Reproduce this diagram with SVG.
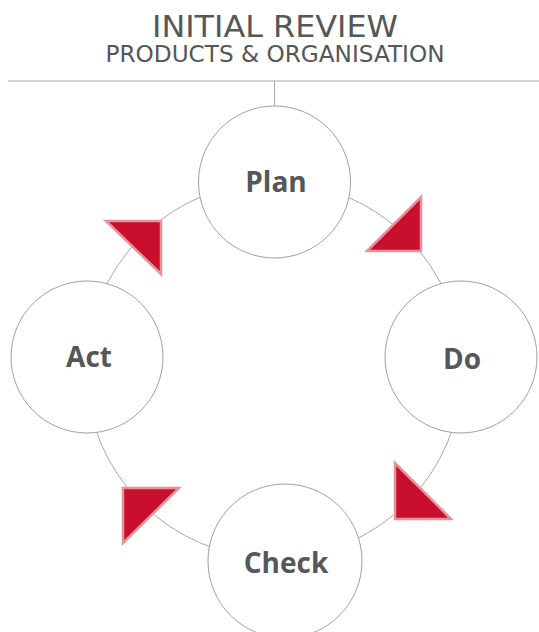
<svg xmlns="http://www.w3.org/2000/svg" width="539" height="632" viewBox="0 0 539 632">
  <style>
    .title { font-family: "DejaVu Sans", "Liberation Sans", sans-serif; fill: #555759; text-anchor: middle; }
    .node circle { fill: #ffffff; stroke: #a0a0a0; stroke-width: 1; }
    .node text { font-family: "Open Sans", "Liberation Sans", sans-serif; font-weight: bold; font-size: 28px; fill: #55575a; text-anchor: middle; }
    .line { fill: none; stroke: #a8a8a8; stroke-width: 1; }
    .arrow { fill: #c8102e; stroke: #e8919b; stroke-width: 2.5; stroke-linejoin: miter; }
  </style>

  <!-- heading -->
  <text class="title" x="275" y="37" font-size="31" textLength="246" lengthAdjust="spacingAndGlyphs">INITIAL REVIEW</text>
  <text class="title" x="275" y="62" font-size="23" textLength="339" lengthAdjust="spacingAndGlyphs">PRODUCTS &amp; ORGANISATION</text>

  <!-- connectors: header rule, stem, and the cycle ring -->
  <g id="connectors">
    <line class="line" x1="8" y1="81" x2="539" y2="81"/>
    <line class="line" x1="274.5" y1="81" x2="274.5" y2="106"/>
    <circle class="line" cx="274" cy="370" r="188"/>
  </g>

  <!-- cycle nodes -->
  <g id="plan" class="node">
    <circle cx="274.5" cy="182" r="76"/>
    <text x="276" y="192">Plan</text>
  </g>
  <g id="do" class="node">
    <circle cx="461" cy="357" r="76"/>
    <text x="462" y="369">Do</text>
  </g>
  <g id="act" class="node">
    <circle cx="87" cy="357" r="76"/>
    <text x="89" y="367">Act</text>
  </g>
  <g id="check" class="node">
    <circle cx="285" cy="561" r="77"/>
    <text x="286" y="573">Check</text>
  </g>

  <!-- direction markers -->
  <g id="arrows">
    <polygon class="arrow" points="367,251 421,197 421,251"/>
    <polygon class="arrow" points="395,463 395,519 451,519"/>
    <polygon class="arrow" points="106,221 161,221 161,274"/>
    <polygon class="arrow" points="123,488 179,488 123,543"/>
  </g>
</svg>
